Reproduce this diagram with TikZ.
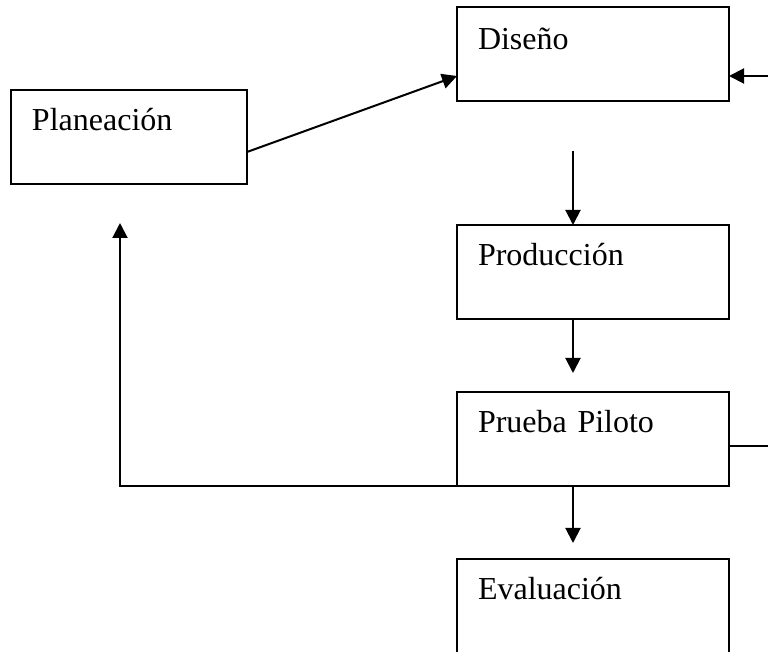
\documentclass[tikz,border=0pt]{standalone}
\usepackage{fontspec}
\setmainfont{Liberation Serif}
\usetikzlibrary{arrows.meta, positioning}

\begin{document}
\begin{tikzpicture}[
            x = 0.5pt, y = -0.5pt, % one unit per pixel of the sketch
            > = {Triangle[length=7.5pt, width=7.5pt]}, % arrow head style
            node distance = 36.5pt, % gap between the boxes
            line width = 1pt % line style
        ]

        \tikzstyle{box}=[
            draw = black,
            line width = 1pt,
            outer sep = 0pt,
            align = left,
            text width = 115pt,
            inner xsep = 10.5pt,
            inner ysep = 0pt,
            text height = 20.5pt, % text sits at the top of the box
            text depth = 26.5pt,
            font = \fontsize{16}{19}\selectfont
        ]

        \useasboundingbox (0,0) rectangle (768,652);

        \node[box, text height = 21.5pt, text depth = 25.5pt] (diseno) at (593,54) {Diseño};
        \node[box, text width = 97pt] (planeacion) at (129,137) {Planeación};
        \node[box] (produccion) [below=62pt of diseno] {Producción};
        \node[box] (prueba) [below=of produccion] {Prueba Piloto};
        \node[box, text depth = 27.5pt] (evaluacion) [below=of prueba] {Evaluación};

        \coordinate (rim) at (768,76);
        \coordinate (pout) at ([yshift=-3.5pt]prueba.east);

        \draw[->] ([yshift=-7.5pt]planeacion.east) -- ([yshift=-11pt]diseno.west);
        \draw[->] (rim) -- (rim -| diseno.east);
        \draw[->, shorten <= 25pt] ([xshift=-10pt]diseno.south) -- ([xshift=-10pt]produccion.north);
        \draw[->, shorten >= 9.5pt] ([xshift=-10pt]produccion.south) -- ([xshift=-10pt]prueba.north);
        \draw[->, shorten >= 8pt] ([xshift=-10pt]prueba.south) -- ([xshift=-10pt]evaluacion.north);
        \draw (pout) -- (pout -| rim);
        \draw[->, shorten >= 19.5pt] (prueba.south west) -| ([xshift=-4.5pt]planeacion.south);

  \end{tikzpicture}
\end{document}
